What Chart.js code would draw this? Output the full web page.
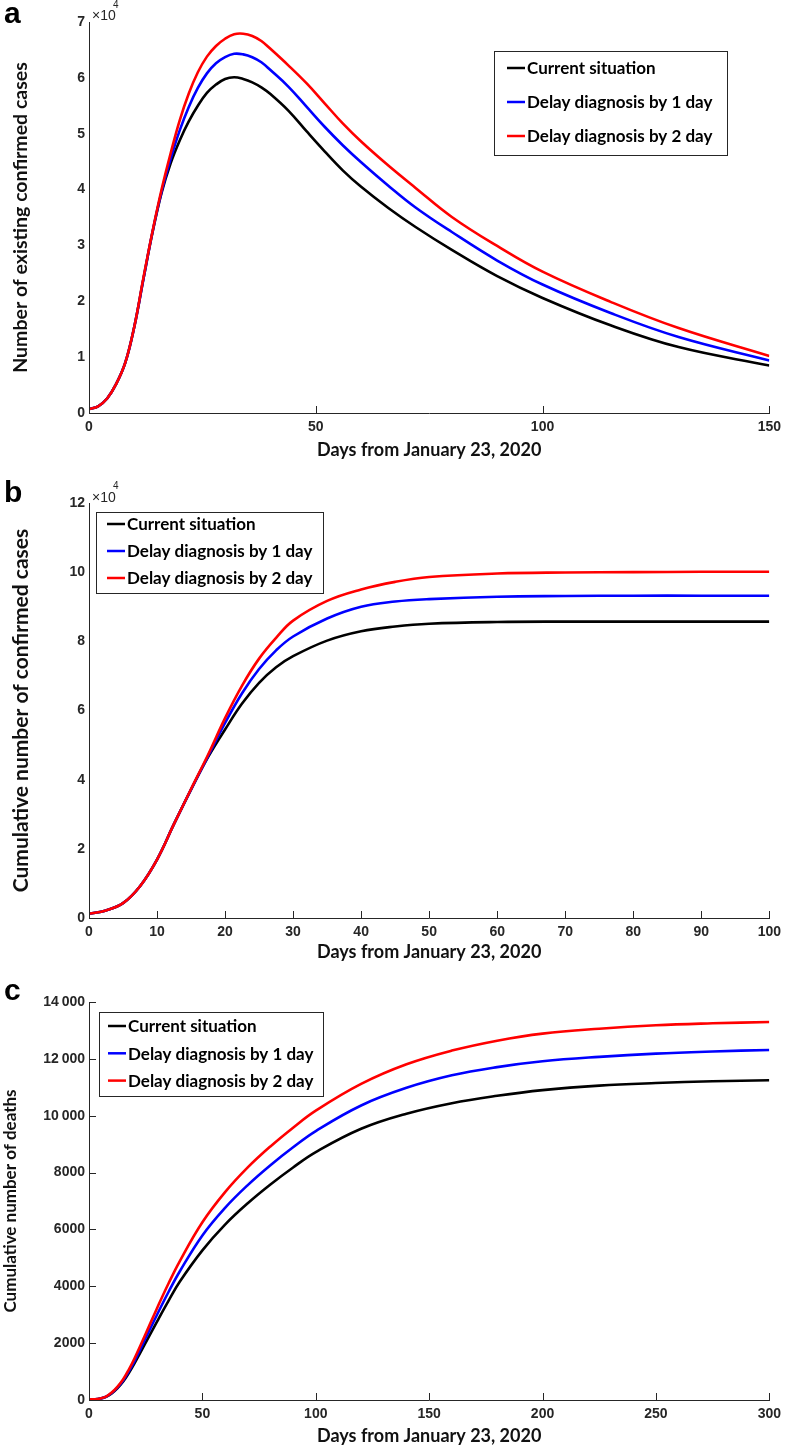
<!DOCTYPE html>
<html>
<head>
<meta charset="utf-8">
<script src="https://cdn.jsdelivr.net/npm/chart.js@4.4.1/dist/chart.umd.min.js"></script>
<style>
  body { margin: 0; background: #fff; }
  #wrap { position: relative; width: 787px; height: 1448px; overflow: hidden; }
  .panel { position: absolute; left: 0; width: 787px; }
  .letter { position: absolute; left: 4px; font: bold 30px "Liberation Sans", Arial, sans-serif; line-height: 1; color: #000; }
  .mult { position: absolute; font: 14px "Liberation Sans", Arial, sans-serif; line-height: 1; color: #262626; }
  .sup { position: absolute; font: 10px "Liberation Sans", Arial, sans-serif; line-height: 1; color: #262626; }
</style>
</head>
<body>
<div id="wrap">
  <div class="panel" style="top:0;height:465px"><canvas id="chartA" width="787" height="465"></canvas></div>
  <div class="panel" style="top:465px;height:500px"><canvas id="chartB" width="787" height="500"></canvas></div>
  <div class="panel" style="top:965px;height:483px"><canvas id="chartC" width="787" height="483"></canvas></div>

  <div class="letter" style="top:-2px">a</div>
  <div class="letter" style="top:477px">b</div>
  <div class="letter" style="top:975px">c</div>

  <div class="mult" style="left:92px;top:8px">×10</div>
  <div class="sup" style="left:113px;top:0px">4</div>
  <div class="mult" style="left:92px;top:490px">×10</div>
  <div class="sup" style="left:113px;top:481px">4</div>
</div>

<script>
// Series labels
const seriesLabels = ['Current situation', 'Delay diagnosis by 1 day', 'Delay diagnosis by 2 day'];
const seriesColors = ['#000000', '#0000ff', '#ff0000'];

// (a) existing confirmed cases, in units of 10^4
const daysA = [0, 2, 4, 6, 8, 10, 12, 14, 16, 18, 20, 22, 24, 26, 28, 30, 32, 34, 36, 38, 40, 44, 48, 52, 56, 60, 66, 72, 80, 90, 100, 115, 130, 150];
const existingCurrent = [0.07, 0.12, 0.26, 0.52, 0.9, 1.55, 2.4, 3.23, 3.94, 4.47, 4.88, 5.22, 5.5, 5.73, 5.88, 5.98, 6.01, 5.98, 5.92, 5.83, 5.71, 5.41, 5.04, 4.68, 4.34, 4.05, 3.67, 3.33, 2.92, 2.45, 2.06, 1.57, 1.18, 0.85];
const existingDelay1 = [0.07, 0.12, 0.26, 0.52, 0.9, 1.55, 2.4, 3.24, 3.96, 4.55, 5.06, 5.48, 5.82, 6.08, 6.26, 6.37, 6.43, 6.42, 6.37, 6.28, 6.14, 5.84, 5.48, 5.12, 4.79, 4.49, 4.07, 3.68, 3.24, 2.73, 2.3, 1.79, 1.36, 0.94];
const existingDelay2 = [0.07, 0.12, 0.26, 0.52, 0.9, 1.55, 2.42, 3.25, 4.0, 4.65, 5.24, 5.72, 6.1, 6.38, 6.57, 6.7, 6.78, 6.79, 6.75, 6.66, 6.52, 6.22, 5.9, 5.54, 5.18, 4.86, 4.43, 4.03, 3.51, 2.99, 2.53, 1.99, 1.52, 1.02];

// (b) cumulative confirmed cases, in units of 10^4
const daysB = [0, 2.5, 5, 7.5, 10, 12.5, 15, 17.5, 20, 22.5, 25, 27.5, 30, 35, 40, 45, 50, 60, 70, 80, 90, 100];
const cumCurrent = [0.12, 0.22, 0.43, 0.92, 1.69, 2.72, 3.71, 4.65, 5.45, 6.2, 6.8, 7.25, 7.57, 8.02, 8.29, 8.43, 8.51, 8.56, 8.57, 8.57, 8.57, 8.57];
const cumDelay1 = [0.12, 0.22, 0.43, 0.92, 1.69, 2.72, 3.72, 4.68, 5.64, 6.5, 7.2, 7.74, 8.14, 8.66, 9.0, 9.15, 9.22, 9.29, 9.31, 9.32, 9.32, 9.32];
const cumDelay2 = [0.12, 0.22, 0.43, 0.92, 1.69, 2.72, 3.73, 4.72, 5.78, 6.72, 7.5, 8.1, 8.6, 9.17, 9.5, 9.72, 9.86, 9.96, 9.99, 10.0, 10.01, 10.01];

// (c) cumulative deaths
const daysC = [0, 2.5, 5, 7.5, 10, 12.5, 15, 17.5, 20, 25, 30, 35, 40, 50, 60, 70, 80, 90, 100, 120, 140, 160, 180, 200, 225, 250, 275, 300];
const deathsCurrent = [20, 25, 50, 110, 230, 410, 640, 940, 1280, 2020, 2760, 3480, 4160, 5265, 6170, 6920, 7580, 8180, 8720, 9540, 10070, 10440, 10700, 10900, 11060, 11150, 11210, 11250];
const deathsDelay1 = [20, 25, 52, 115, 245, 435, 680, 1000, 1360, 2180, 3000, 3790, 4520, 5790, 6760, 7560, 8260, 8890, 9460, 10360, 10980, 11420, 11710, 11915, 12070, 12185, 12260, 12314];
const deathsDelay2 = [20, 25, 55, 120, 260, 460, 720, 1060, 1450, 2330, 3230, 4090, 4880, 6250, 7310, 8180, 8920, 9580, 10180, 11120, 11810, 12290, 12640, 12888, 13060, 13181, 13250, 13298];

const AXIS_COLOR = '#262626';
const TITLE_FAMILY = 'Lato, "Open Sans", sans-serif';
const LEGEND_FONT = 'bold 17px Lato, "Open Sans", sans-serif';

Chart.defaults.font.family = '"Liberation Sans", Arial, sans-serif';
Chart.defaults.font.size = 14;
Chart.defaults.font.weight = 'bold';
Chart.defaults.color = AXIS_COLOR;

// MATLAB-style ticks pointing into the plot
const inwardTicks = {
  id: 'inwardTicks',
  afterDatasetsDraw(chart, args, opts) {
    const ctx = chart.ctx;
    const { x, y } = chart.scales;
    ctx.save();
    ctx.strokeStyle = AXIS_COLOR;
    ctx.lineWidth = 1;
    ctx.beginPath();
    x.ticks.forEach(t => {
      const px = Math.round(x.getPixelForValue(t.value)) + 0.5;
      ctx.moveTo(px, x.top);
      ctx.lineTo(px, x.top - 7);
    });
    if (opts.yTicks) {
      y.ticks.forEach(t => {
        const py = Math.round(y.getPixelForValue(t.value)) + 0.5;
        ctx.moveTo(y.right, py);
        ctx.lineTo(y.right + 7, py);
      });
    }
    ctx.stroke();
    ctx.restore();
  }
};

// boxed legend drawn inside the plot
const boxLegend = {
  id: 'boxLegend',
  afterDraw(chart, args, o) {
    const ctx = chart.ctx;
    ctx.save();
    ctx.fillStyle = '#fff';
    ctx.fillRect(o.x, o.y, o.w, o.h);
    ctx.strokeStyle = AXIS_COLOR;
    ctx.lineWidth = 1;
    ctx.strokeRect(Math.round(o.x) + 0.5, Math.round(o.y) + 0.5, o.w, o.h);
    ctx.font = LEGEND_FONT;
    ctx.textBaseline = 'middle';
    chart.data.datasets.forEach((ds, i) => {
      const cy = o.y + o.first + i * o.step;
      ctx.strokeStyle = ds.borderColor;
      ctx.lineWidth = 2.5;
      ctx.beginPath();
      ctx.moveTo(o.x + o.pad, cy);
      ctx.lineTo(o.x + o.pad + 18, cy);
      ctx.stroke();
      ctx.fillStyle = '#000';
      ctx.fillText(ds.label, o.x + o.pad + 20, cy + 1);
    });
    ctx.restore();
  }
};

function makeDatasets(days, series) {
  return series.map((vals, i) => ({
    label: seriesLabels[i],
    data: days.map((d, j) => ({ x: d, y: vals[j] })),
    borderColor: seriesColors[i],
    borderWidth: 2.6,
    pointRadius: 0,
    tension: 0.4,
    order: 3 - i
  }));
}

function makeChart(id, cfg) {
  return new Chart(document.getElementById(id), {
    type: 'line',
    data: { datasets: makeDatasets(cfg.days, cfg.series) },
    options: {
      responsive: false,
      animation: false,
      events: [],
      layout: { padding: { top: cfg.top, right: 14, left: 0, bottom: 0 } },
      plugins: {
        legend: { display: false },
        tooltip: { enabled: false },
        inwardTicks: { yTicks: cfg.yTicks },
        boxLegend: cfg.legend
      },
      scales: {
        x: {
          type: 'linear',
          min: 0,
          max: cfg.xMax,
          ticks: { stepSize: cfg.xStep, padding: 6, maxRotation: 0 },
          grid: { display: true, drawOnChartArea: false, drawTicks: false },
          border: { display: true, color: AXIS_COLOR, width: 1 },
          title: { display: true, text: 'Days from January 23, 2020', font: { family: TITLE_FAMILY, size: 18, weight: 'bold' }, color: '#111', padding: { top: 0, bottom: cfg.xTitlePad } },
          afterFit: s => { s.height = cfg.xHeight; }
        },
        y: {
          min: 0,
          max: cfg.yMax,
          ticks: { stepSize: cfg.yStep, padding: 4, callback: cfg.yFormat },
          grid: { display: true, drawOnChartArea: false, drawTicks: false },
          border: { display: true, color: AXIS_COLOR, width: 1 },
          title: { display: true, text: cfg.yTitle, font: { family: TITLE_FAMILY, size: cfg.yTitleSize, weight: 'bold' }, color: '#111', padding: { top: cfg.yTitlePad, bottom: 0 } },
          afterFit: s => { s.width = 89; }
        }
      }
    },
    plugins: [inwardTicks, boxLegend]
  });
}

const spaced = v => v >= 10000 ? String(v).replace(/(\d+)(\d{3})$/, '$1\u2009$2') : String(v);

makeChart('chartA', {
  days: daysA, series: [existingCurrent, existingDelay1, existingDelay2],
  top: 22, xMax: 150, xStep: 50, yMax: 7, yStep: 1, xHeight: 52, xTitlePad: 4,
  yTitle: 'Number of existing confirmed cases', yTitleSize: 19.5, yTitlePad: 9, yTicks: false,
  yFormat: v => String(v),
  legend: { x: 494, y: 51, w: 233, h: 104, first: 17, step: 34, pad: 13 }
});

makeChart('chartB', {
  days: daysB, series: [cumCurrent, cumDelay1, cumDelay2],
  top: 38, xMax: 100, xStep: 10, yMax: 12, yStep: 2, xHeight: 47, xTitlePad: 2,
  yTitle: 'Cumulative number of confirmed cases', yTitleSize: 21, yTitlePad: 9, yTicks: false,
  yFormat: v => String(v),
  legend: { x: 96, y: 47, w: 227, h: 81, first: 12, step: 27, pad: 11 }
});

makeChart('chartC', {
  days: daysC, series: [deathsCurrent, deathsDelay1, deathsDelay2],
  top: 37, xMax: 300, xStep: 50, yMax: 14000, yStep: 2000, xHeight: 48, xTitlePad: 1,
  yTitle: 'Cumulative number of deaths', yTitleSize: 17, yTitlePad: 0, yTicks: true,
  yFormat: v => spaced(v),
  legend: { x: 99, y: 47, w: 224, h: 84, first: 14, step: 27.3, pad: 9 }
});
</script>
</body>
</html>
